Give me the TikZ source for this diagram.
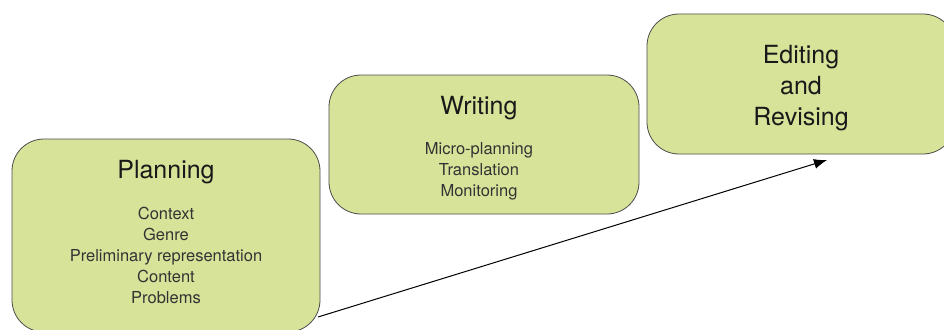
\documentclass[tikz,border=0pt]{standalone}
\usepackage{fontspec}
\setmainfont{TeX Gyre Heros}
\usetikzlibrary{arrows.meta}
\definecolor{boxgreen}{RGB}{216,227,154}
\begin{document}
\begin{tikzpicture}[x=1pt,y=-1pt,
  box/.style={draw=black!70, fill=boxgreen, line width=0.8pt, rounded corners=32pt, inner sep=0pt},
  title/.style={font=\fontsize{25}{31}\selectfont, text=black!90, align=center, inner sep=0pt},
  items/.style={font=\fontsize{16.5}{21}\selectfont, text=black!80, align=center, inner sep=0pt},
  flow/.style={-{Latex[length=13pt,width=10pt]}, line width=1pt, black}]
\useasboundingbox (0,0) rectangle (944,329);
\clip (0,0) rectangle (944,329);
\fill[white] (0,0) rectangle (944,329);
% boxes
\node[box, minimum width=308pt, minimum height=193pt] (plan) at (166,235.5) {};
\node[box, minimum width=310pt, minimum height=139pt] (write) at (484,144.5) {};
\node[box, minimum width=308pt, minimum height=140pt] (edit) at (801,84) {};
% texts
\node[title] (plantitle) at (166,172.5) {Planning};
\node[items] (planitems) at (166,255.5) {Context\\Genre\\Preliminary representation\\Content\\Problems};
\node[title] (writetitle) at (479,108.5) {Writing};
\node[items] (writeitems) at (479,171.5) {Micro-planning\\Translation\\Monitoring};
\node[title] (edittitle) at (801,88) {Editing\\and\\Revising};
% arrow
\coordinate (a0) at (318,317);
\coordinate (a1) at (827,160);
\draw[flow] (a0) -- (a1);
\end{tikzpicture}
\end{document}
